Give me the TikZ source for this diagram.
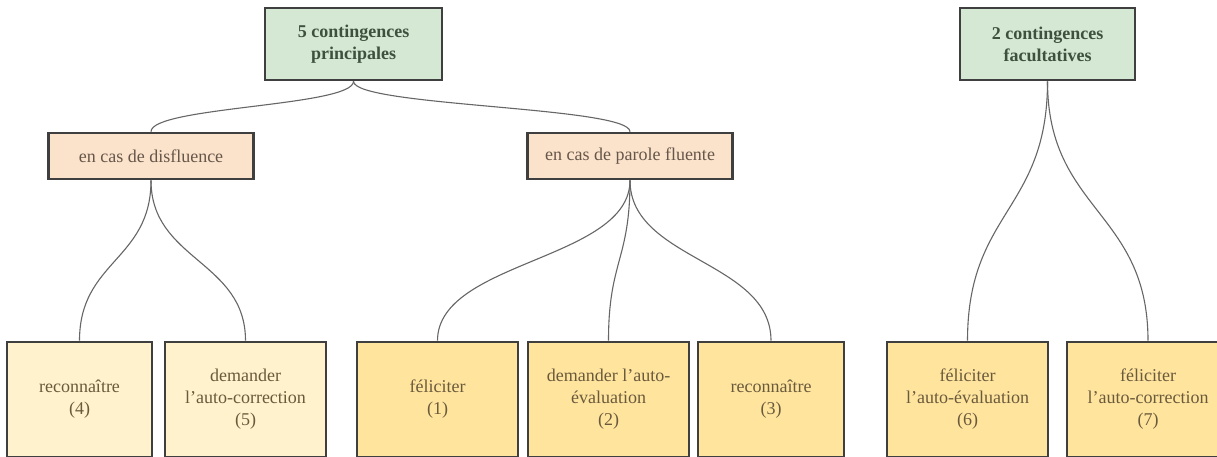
\documentclass[tikz,border=0pt]{standalone}
\usepackage{fontspec}
\setmainfont{Liberation Serif}
\usetikzlibrary{calc}
\definecolor{gfill}{HTML}{D5E8D4}
\definecolor{gtext}{HTML}{3E513E}
\definecolor{ofill}{HTML}{FBE3CB}
\definecolor{otext}{HTML}{66564A}
\definecolor{lfill}{HTML}{FFF2CC}
\definecolor{dfill}{HTML}{FFE49E}
\definecolor{btext}{HTML}{6A5A3C}
\definecolor{bord}{HTML}{3F3F3F}
\definecolor{wire}{HTML}{666666}
\tikzset{
  box/.style={draw=bord, line width=2.6pt, inner sep=0pt, align=center,
    font=\fontsize{18}{22}\selectfont},
  topbox/.style={box, fill=gfill, text=gtext, font=\fontsize{18}{22}\selectfont\bfseries,
    minimum height=72pt},
  midbox/.style={box, fill=ofill, text=otext, minimum width=205pt, minimum height=46pt},
  leafl/.style={box, fill=lfill, text=btext, minimum height=115pt},
  leafd/.style={box, fill=dfill, text=btext, minimum height=115pt},
  wirestyle/.style={draw=wire, line width=1.1pt}
}
\newcommand{\conn}[2]{%
  \draw[wirestyle] let \p1=(#1.south), \p2=(#2.north) in
    (\p1) .. controls (\x1,{(\y1+\y2)/2}) and (\x2,{(\y1+\y2)/2}) .. (\p2);}
\begin{document}
\begin{tikzpicture}[x=1pt,y=-1pt]
\useasboundingbox (0,0) rectangle (1217,456);
\clip (0,0) rectangle (1217,456);
\fill[white] (0,0) rectangle (1217,456);
% top
\node[topbox, minimum width=177pt] (g1) at (353.5,44) {5 contingences\\principales};
\node[topbox, minimum width=175pt] (g2) at (1047.5,44) {2 contingences\\facultatives};
% middle
\node[midbox] (o1) at (151,156) {en cas de disfluence};
\node[midbox] (o2) at (630,156) {en cas de parole fluente};
% leaves
\node[leafl, minimum width=145pt] (b1) at (79.5,399.5) {reconnaître\\(4)};
\node[leafl, minimum width=161pt] (b2) at (245.5,399.5) {demander\\l’auto-correction\\(5)};
\node[leafd, minimum width=161pt] (b3) at (437.5,399.5) {féliciter\\(1)};
\node[leafd, minimum width=161pt] (b4) at (608.5,399.5) {demander l’auto-\\évaluation\\(2)};
\node[leafd, minimum width=146pt] (b5) at (771,399.5) {reconnaître\\(3)};
\node[leafd, minimum width=161pt] (b6) at (967.5,399.5) {féliciter\\l’auto-évaluation\\(6)};
\node[leafd, minimum width=162pt] (b7) at (1148,399.5) {féliciter\\l’auto-correction\\(7)};
% connectors
\conn{g1}{o1}
\conn{g1}{o2}
\conn{o1}{b1}
\conn{o1}{b2}
\conn{o2}{b3}
\conn{o2}{b4}
\conn{o2}{b5}
\conn{g2}{b6}
\conn{g2}{b7}
\end{tikzpicture}
\end{document}
